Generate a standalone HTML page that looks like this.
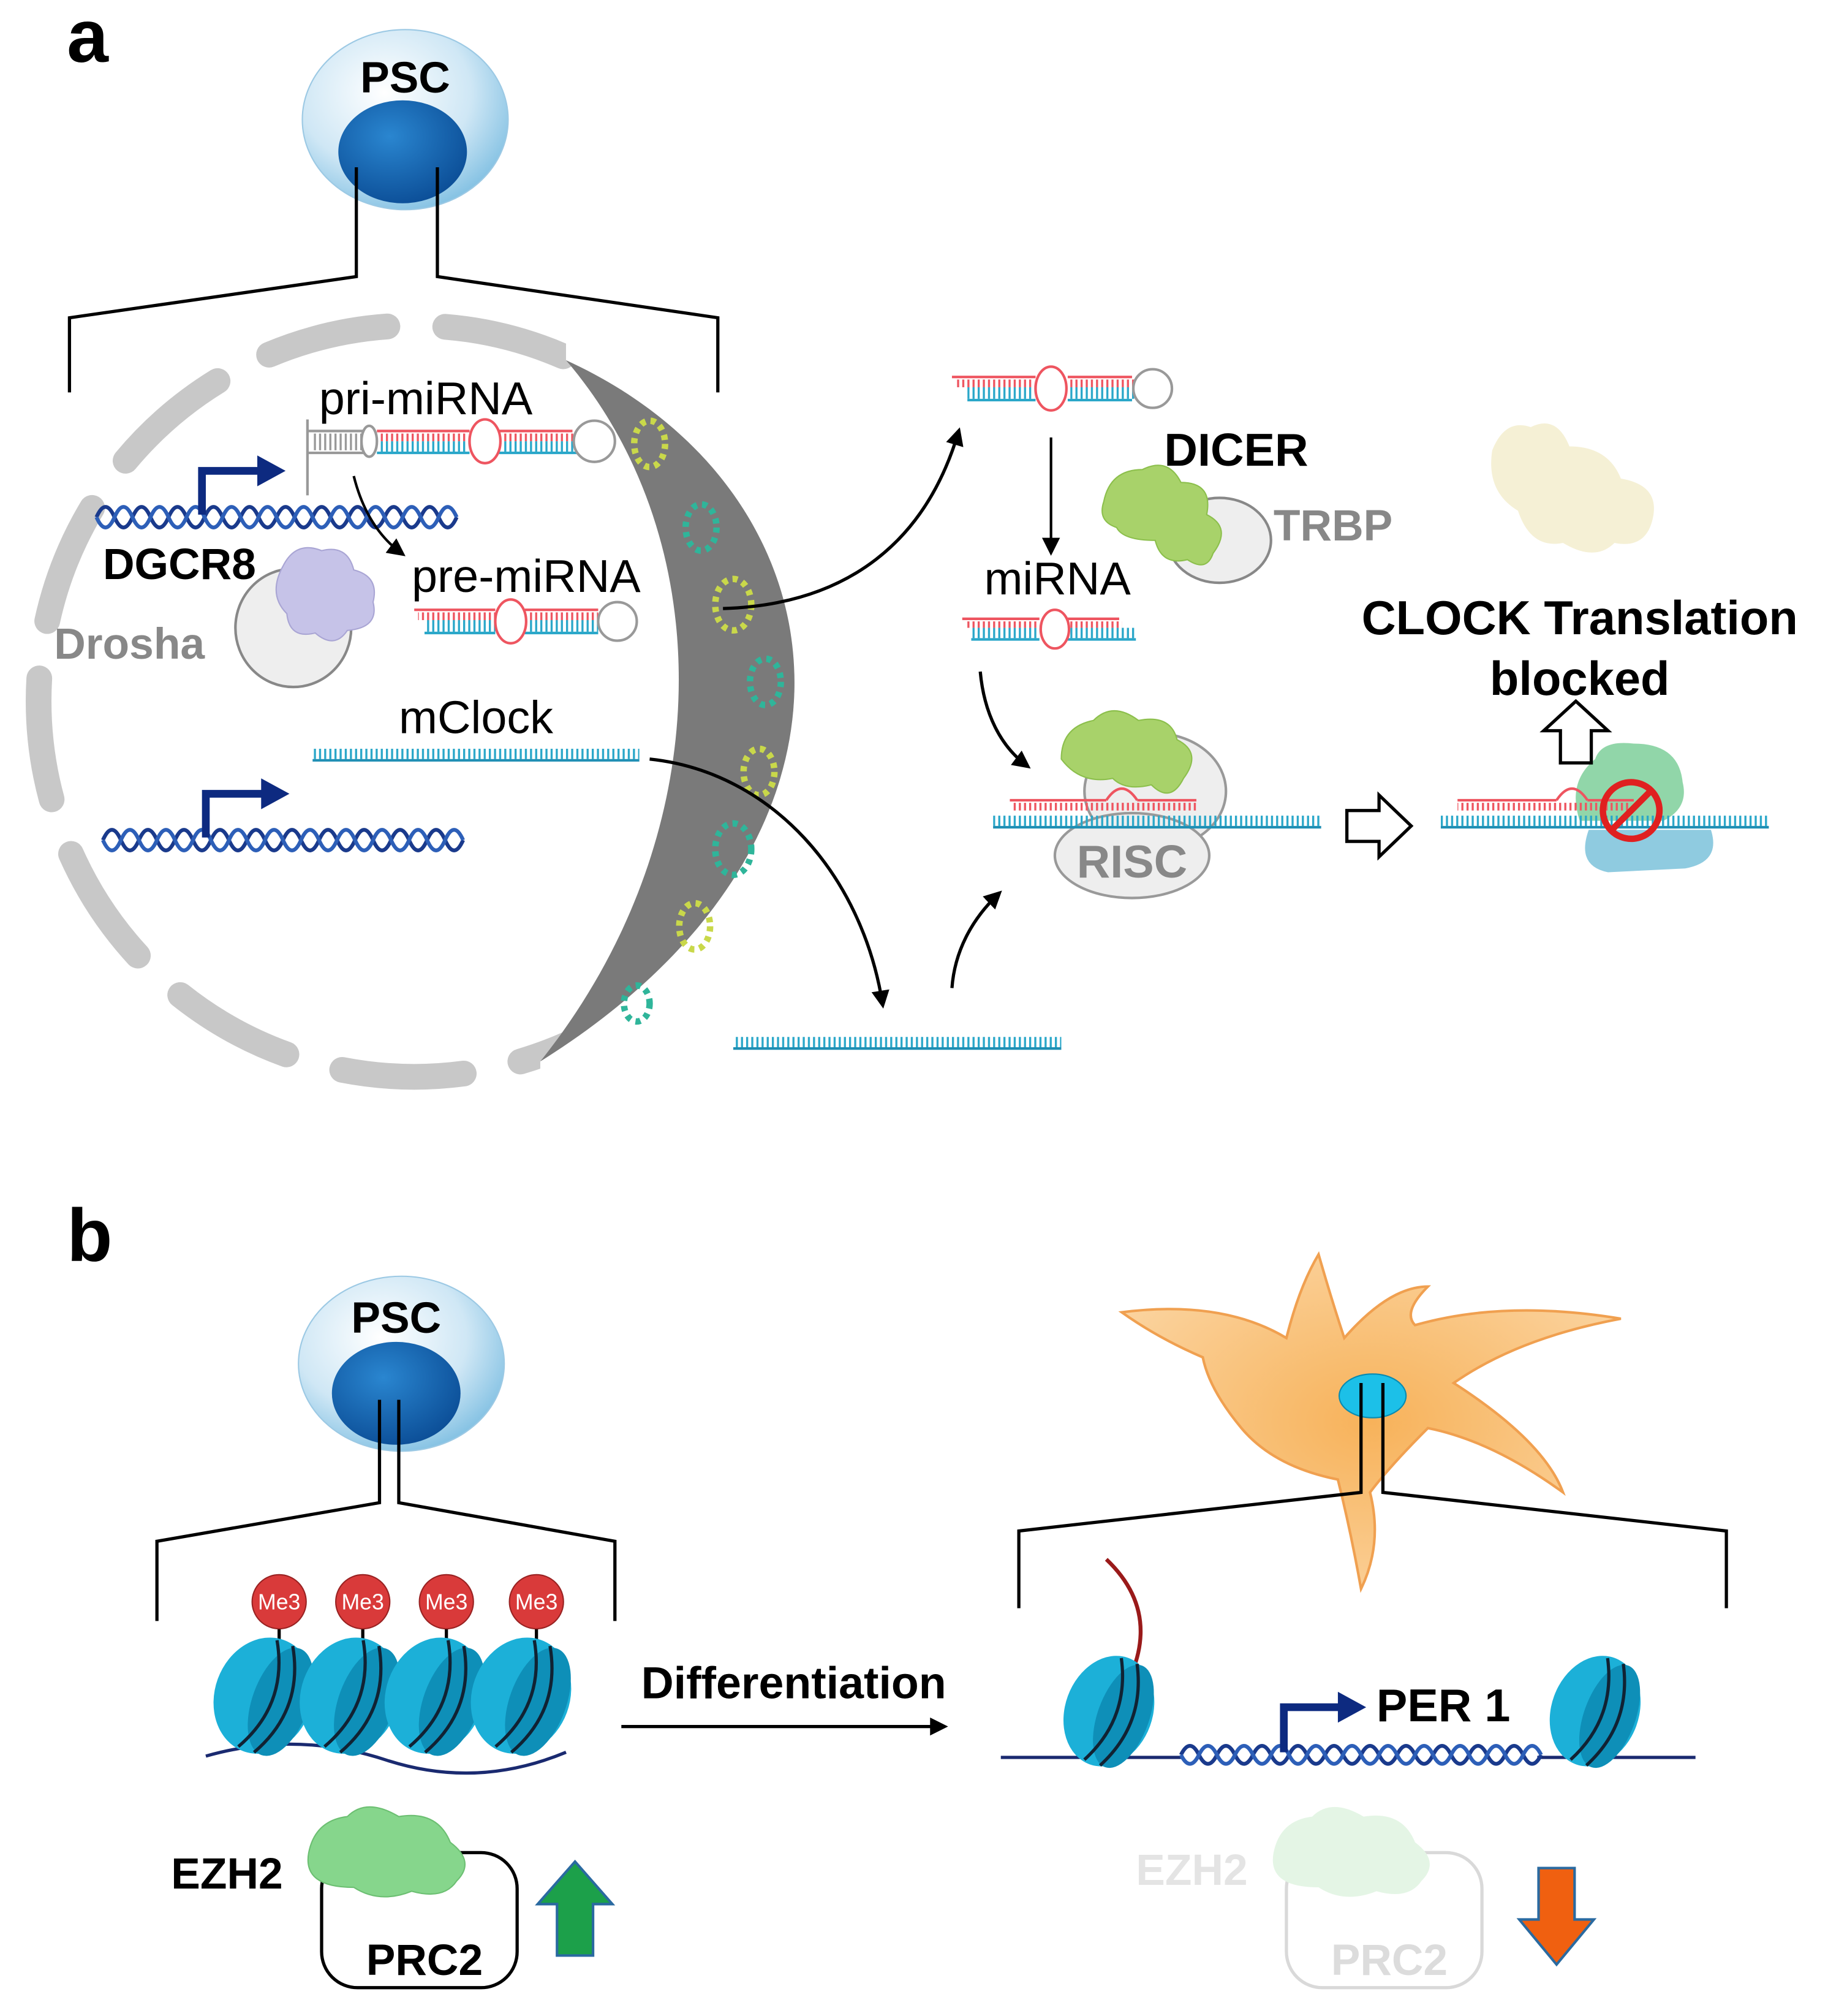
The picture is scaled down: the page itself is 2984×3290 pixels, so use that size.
<!DOCTYPE html>
<html><head><meta charset="utf-8"><style>
html,body{margin:0;padding:0;background:#fff}
svg{display:block}
text{font-family:"Liberation Sans",Arial,sans-serif}
</style></head><body>
<svg width="2984" height="3290" viewBox="0 0 1421 1567" preserveAspectRatio="none" xmlns="http://www.w3.org/2000/svg">
<defs>
<pattern id="tc" width="4" height="10" patternUnits="userSpaceOnUse"><rect x="0" y="0" width="1.6" height="10" fill="#2aa7c9"/></pattern>
<pattern id="tr" width="4" height="10" patternUnits="userSpaceOnUse"><rect x="0" y="0" width="1.6" height="10" fill="#ee5560"/></pattern>
<pattern id="tg" width="4" height="10" patternUnits="userSpaceOnUse"><rect x="0" y="0" width="1.6" height="10" fill="#999"/></pattern>
<radialGradient id="cell" cx="0.4" cy="0.35" r="0.7"><stop offset="0" stop-color="#ffffff"/><stop offset="0.6" stop-color="#cfe7f5"/><stop offset="1" stop-color="#7fbfe2"/></radialGradient>
<radialGradient id="nuc" cx="0.4" cy="0.35" r="0.7"><stop offset="0" stop-color="#2a86d0"/><stop offset="1" stop-color="#0b4d96"/></radialGradient>
<radialGradient id="orange" cx="0.5" cy="0.5" r="0.6"><stop offset="0" stop-color="#f7b25a"/><stop offset="1" stop-color="#fbd4a0"/></radialGradient>
<marker id="ah2" markerWidth="14" markerHeight="14" refX="10" refY="7" orient="auto" markerUnits="userSpaceOnUse"><path d="M0,0 L14,7 L0,14 z" fill="#000"/></marker>
<clipPath id="leftside"><path d="M0,0 L440,0 L440,280 C660,380 700,650 420,825 L420,900 L0,900 z"/></clipPath>
</defs>

<!-- panel a -->
<text x="52" y="48" font-size="58" font-weight="bold">a</text>
<ellipse cx="315" cy="93" rx="80" ry="70" fill="url(#cell)" stroke="#9cc9e4"/>
<ellipse cx="313" cy="118" rx="50" ry="40" fill="url(#nuc)"/>
<text x="315" y="72" font-size="34" font-weight="bold" text-anchor="middle">PSC</text>
<polyline points="277,130 277,215 54,247 54,305" fill="none" stroke="#000" stroke-width="2.5"/>
<polyline points="340,130 340,215 558,247 558,305" fill="none" stroke="#000" stroke-width="2.5"/>

<!-- nucleus envelope -->
<circle cx="322" cy="545" r="292" fill="none" stroke="#c8c8c8" stroke-width="20" stroke-linecap="round" stroke-dasharray="95 45" clip-path="url(#leftside)"/>
<!-- crescent -->
<path d="M440,280 C660,380 700,650 420,825 C560,650 560,420 440,280 z" fill="#7a7a7a"/>
<g fill="none" stroke-width="5" stroke-dasharray="4 4">
<ellipse cx="505" cy="345" rx="12" ry="18" stroke="#c9d84a"/>
<ellipse cx="545" cy="410" rx="12" ry="18" stroke="#2fb59a"/>
<ellipse cx="570" cy="470" rx="14" ry="20" stroke="#c9d84a"/>
<ellipse cx="595" cy="530" rx="12" ry="18" stroke="#2fb59a"/>
<ellipse cx="590" cy="600" rx="12" ry="18" stroke="#c9d84a"/>
<ellipse cx="570" cy="660" rx="14" ry="20" stroke="#2fb59a"/>
<ellipse cx="540" cy="720" rx="12" ry="18" stroke="#c9d84a"/>
<ellipse cx="495" cy="780" rx="10" ry="14" stroke="#2fb59a"/>
</g>

<!-- DNA helix 1 -->
<g fill="none" stroke="#1a3a8c" stroke-width="3">
<path d="M75,402 q7,-16 14,0 t14,0 t14,0 t14,0 t14,0 t14,0 t14,0 t14,0 t14,0 t14,0 t14,0 t14,0 t14,0 t14,0 t14,0 t14,0 t14,0 t14,0 t14,0 t14,0"/>
<path d="M75,402 q7,16 14,0 t14,0 t14,0 t14,0 t14,0 t14,0 t14,0 t14,0 t14,0 t14,0 t14,0 t14,0 t14,0 t14,0 t14,0 t14,0 t14,0 t14,0 t14,0 t14,0" stroke="#2d5fb8"/>
<path d="M80,653 q7,-16 14,0 t14,0 t14,0 t14,0 t14,0 t14,0 t14,0 t14,0 t14,0 t14,0 t14,0 t14,0 t14,0 t14,0 t14,0 t14,0 t14,0 t14,0 t14,0 t14,0"/>
<path d="M80,653 q7,16 14,0 t14,0 t14,0 t14,0 t14,0 t14,0 t14,0 t14,0 t14,0 t14,0 t14,0 t14,0 t14,0 t14,0 t14,0 t14,0 t14,0 t14,0 t14,0 t14,0" stroke="#2d5fb8"/>
</g>
<g fill="none" stroke="#0d2a80" stroke-width="6">
<polyline points="157,400 157,366 202,366"/>
<polyline points="160,651 160,617 205,617"/>
</g>
<path d="M200,354 L222,366 L200,378 z" fill="#0d2a80"/>
<path d="M203,605 L225,617 L203,629 z" fill="#0d2a80"/>

<!-- pri-miRNA -->
<text x="248" y="322" font-size="36">pri-miRNA</text>
<line x1="239" y1="326" x2="239" y2="385" stroke="#999" stroke-width="2"/>
<line x1="239" y1="335" x2="285" y2="335" stroke="#999" stroke-width="2"/>
<line x1="239" y1="352" x2="285" y2="352" stroke="#999" stroke-width="2"/>
<rect x="243" y="337" width="40" height="13" fill="url(#tg)"/>
<ellipse cx="287" cy="343" rx="6" ry="12" fill="#fff" stroke="#999" stroke-width="2"/>
<line x1="293" y1="335" x2="365" y2="335" stroke="#ee5560" stroke-width="2"/>
<line x1="388" y1="335" x2="445" y2="335" stroke="#ee5560" stroke-width="2"/>
<line x1="293" y1="352" x2="365" y2="352" stroke="#2aa7c9" stroke-width="2"/>
<line x1="388" y1="352" x2="460" y2="352" stroke="#2aa7c9" stroke-width="2"/>
<rect x="296" y="337" width="68" height="6" fill="url(#tr)"/><rect x="296" y="343" width="68" height="8" fill="url(#tc)"/>
<rect x="390" y="337" width="60" height="6" fill="url(#tr)"/><rect x="390" y="343" width="60" height="8" fill="url(#tc)"/>
<ellipse cx="377" cy="343" rx="12" ry="17" fill="#fff" stroke="#ee5560" stroke-width="2"/>
<circle cx="462" cy="343" r="16" fill="#fff" stroke="#999" stroke-width="2"/>
<path d="M275,370 Q285,410 312,430" fill="none" stroke="#000" stroke-width="2" marker-end="url(#ah2)"/>

<text x="80" y="450" font-size="34" font-weight="bold">DGCR8</text>
<ellipse cx="228" cy="488" rx="45" ry="46" fill="#eee" stroke="#888" stroke-width="2"/>
<path d="M220,440 q10,-20 30,-12 q20,-5 25,15 q20,5 15,25 q5,20 -20,22 q-10,15 -25,2 q-20,5 -22,-15 q-15,-15 -3,-37z" fill="#c6c3e8" stroke="#a9a5d4"/>
<text x="42" y="512" font-size="34" font-weight="bold" fill="#888">Drosha</text>

<!-- pre-miRNA -->
<text x="320" y="460" font-size="36">pre-miRNA</text>
<line x1="322" y1="474" x2="385" y2="474" stroke="#ee5560" stroke-width="2"/>
<line x1="408" y1="474" x2="465" y2="474" stroke="#ee5560" stroke-width="2"/>
<line x1="330" y1="492" x2="385" y2="492" stroke="#2aa7c9" stroke-width="2"/>
<line x1="408" y1="492" x2="465" y2="492" stroke="#2aa7c9" stroke-width="2"/>
<rect x="325" y="476" width="60" height="6" fill="url(#tr)"/><rect x="330" y="482" width="55" height="9" fill="url(#tc)"/>
<rect x="410" y="476" width="55" height="6" fill="url(#tr)"/><rect x="410" y="482" width="55" height="9" fill="url(#tc)"/>
<ellipse cx="397" cy="483" rx="12" ry="17" fill="#fff" stroke="#ee5560" stroke-width="2"/>
<circle cx="480" cy="483" r="15" fill="#fff" stroke="#999" stroke-width="2"/>

<!-- mClock -->
<text x="370" y="570" font-size="36" text-anchor="middle">mClock</text>
<rect x="243" y="582" width="254" height="8" fill="url(#tc)"/>
<line x1="243" y1="591" x2="497" y2="591" stroke="#1f8fb4" stroke-width="2"/>

<!-- curved arrows -->
<path d="M562,473 C660,470 720,420 745,336" fill="none" stroke="#000" stroke-width="2.5" marker-end="url(#ah2)"/>
<path d="M505,590 C600,600 670,680 686,780" fill="none" stroke="#000" stroke-width="2.5" marker-end="url(#ah2)"/>
<path d="M740,768 C742,740 755,715 776,695" fill="none" stroke="#000" stroke-width="2.5" marker-end="url(#ah2)"/>

<!-- bottom strand -->
<rect x="570" y="806" width="255" height="8" fill="url(#tc)"/>
<line x1="570" y1="815" x2="825" y2="815" stroke="#1f8fb4" stroke-width="2"/>

<!-- right hairpin -->
<line x1="740" y1="293" x2="805" y2="293" stroke="#ee5560" stroke-width="2"/>
<line x1="830" y1="293" x2="880" y2="293" stroke="#ee5560" stroke-width="2"/>
<line x1="752" y1="311" x2="805" y2="311" stroke="#2aa7c9" stroke-width="2"/>
<line x1="830" y1="311" x2="880" y2="311" stroke="#2aa7c9" stroke-width="2"/>
<rect x="742" y="295" width="62" height="6" fill="url(#tr)"/><rect x="752" y="301" width="52" height="9" fill="url(#tc)"/>
<rect x="832" y="295" width="50" height="6" fill="url(#tr)"/><rect x="832" y="301" width="50" height="9" fill="url(#tc)"/>
<ellipse cx="817" cy="302" rx="12" ry="17" fill="#fff" stroke="#ee5560" stroke-width="2"/>
<circle cx="896" cy="302" r="15" fill="#fff" stroke="#999" stroke-width="2"/>
<line x1="817" y1="340" x2="817" y2="428" stroke="#000" stroke-width="2" marker-end="url(#ah2)"/>

<text x="905" y="362" font-size="36" font-weight="bold">DICER</text>
<ellipse cx="948" cy="420" rx="40" ry="33" fill="#eee" stroke="#888" stroke-width="2"/>
<path d="M858,390 q5,-25 30,-25 q20,-10 30,10 q25,0 20,25 q20,10 5,30 q-5,15 -20,5 q-20,5 -25,-15 q-25,0 -30,-10 q-15,-5 -10,-20z" fill="#a8d26a" stroke="#8cbf4c"/>
<text x="990" y="420" font-size="34" font-weight="bold" fill="#888">TRBP</text>

<text x="765" y="462" font-size="36">miRNA</text>
<line x1="748" y1="481" x2="808" y2="481" stroke="#ee5560" stroke-width="2"/>
<line x1="830" y1="481" x2="870" y2="481" stroke="#ee5560" stroke-width="2"/>
<line x1="755" y1="497" x2="808" y2="497" stroke="#2aa7c9" stroke-width="2"/>
<line x1="830" y1="497" x2="883" y2="497" stroke="#2aa7c9" stroke-width="2"/>
<rect x="750" y="483" width="58" height="5" fill="url(#tr)"/><rect x="755" y="488" width="53" height="8" fill="url(#tc)"/>
<rect x="832" y="483" width="40" height="5" fill="url(#tr)"/><rect x="832" y="488" width="50" height="8" fill="url(#tc)"/>
<ellipse cx="820" cy="489" rx="11" ry="15" fill="#fff" stroke="#ee5560" stroke-width="2"/>
<path d="M762,522 C765,555 778,580 798,595" fill="none" stroke="#000" stroke-width="2.5" marker-end="url(#ah2)"/>

<!-- RISC -->
<ellipse cx="898" cy="615" rx="55" ry="45" fill="#eee" stroke="#999" stroke-width="2"/>
<ellipse cx="880" cy="665" rx="60" ry="33" fill="#eee" stroke="#999" stroke-width="2"/>
<path d="M825,590 q0,-25 25,-30 q15,-15 35,0 q25,-5 30,15 q20,10 5,30 q-10,20 -25,5 q-20,5 -30,-5 q-25,5 -40,-15z" fill="#a8d26a" stroke="#8cbf4c"/>
<line x1="785" y1="622" x2="860" y2="622" stroke="#ee5560" stroke-width="2"/>
<path d="M860,622 q12,-18 24,0" fill="none" stroke="#ee5560" stroke-width="2"/>
<line x1="884" y1="622" x2="930" y2="622" stroke="#ee5560" stroke-width="2"/>
<rect x="787" y="624" width="143" height="6" fill="url(#tr)"/>
<rect x="772" y="634" width="255" height="8" fill="url(#tc)"/>
<line x1="772" y1="643" x2="1027" y2="643" stroke="#1f8fb4" stroke-width="2"/>
<text x="880" y="682" font-size="36" font-weight="bold" fill="#888" text-anchor="middle">RISC</text>

<!-- hollow arrow -->
<path d="M1047,630 L1072,630 L1072,618 L1097,642 L1072,666 L1072,654 L1047,654 z" fill="#fff" stroke="#000" stroke-width="2.5"/>

<!-- blocked -->
<path d="M1160,350 q10,-25 30,-18 q20,-10 30,15 q30,0 40,25 q30,5 25,30 q-5,25 -30,20 q-15,15 -40,0 q-25,5 -35,-25 q-25,-15 -20,-47z" fill="#f5f0d5"/>
<path d="M1240,590 q5,-15 30,-12 q35,0 38,30 q5,20 -15,30 l-65,0 q-10,-30 12,-48z" fill="#7ecf9a" opacity="0.85"/>
<path d="M1235,645 l95,0 q8,25 -20,30 l-60,3 q-25,-5 -15,-33z" fill="#8fcbe0"/>
<line x1="1133" y1="622" x2="1210" y2="622" stroke="#ee5560" stroke-width="2"/>
<path d="M1210,622 q12,-18 24,0" fill="none" stroke="#ee5560" stroke-width="2"/>
<line x1="1234" y1="622" x2="1270" y2="622" stroke="#ee5560" stroke-width="2"/>
<rect x="1133" y="624" width="135" height="6" fill="url(#tr)"/>
<rect x="1120" y="634" width="255" height="8" fill="url(#tc)"/>
<line x1="1120" y1="643" x2="1375" y2="643" stroke="#1f8fb4" stroke-width="2"/>
<circle cx="1268" cy="630" r="22" fill="none" stroke="#e02020" stroke-width="5"/>
<line x1="1253" y1="645" x2="1283" y2="615" stroke="#e02020" stroke-width="5"/>
<text x="1228" y="493" font-size="37" font-weight="bold" text-anchor="middle">CLOCK Translation</text>
<text x="1228" y="540" font-size="37" font-weight="bold" text-anchor="middle">blocked</text>
<path d="M1213,593 L1213,568 L1200,568 L1225,545 L1250,568 L1237,568 L1237,593 z" fill="#fff" stroke="#000" stroke-width="2.5"/>

<!-- panel b -->
<text x="52" y="980" font-size="58" font-weight="bold">b</text>
<ellipse cx="312" cy="1060" rx="80" ry="68" fill="url(#cell)" stroke="#9cc9e4"/>
<ellipse cx="308" cy="1083" rx="50" ry="40" fill="url(#nuc)"/>
<text x="308" y="1036" font-size="34" font-weight="bold" text-anchor="middle">PSC</text>
<polyline points="295,1088 295,1168 122,1198 122,1260" fill="none" stroke="#000" stroke-width="2.5"/>
<polyline points="310,1088 310,1168 478,1198 478,1260" fill="none" stroke="#000" stroke-width="2.5"/>

<path d="M160,1365 Q230,1345 300,1368 T440,1362" fill="none" stroke="#1a2a70" stroke-width="2.5"/>
<g stroke="#000" stroke-width="2.5">
<line x1="217" y1="1262" x2="217" y2="1290"/><line x1="282" y1="1262" x2="282" y2="1290"/><line x1="347" y1="1262" x2="347" y2="1290"/><line x1="417" y1="1262" x2="417" y2="1290"/>
</g>
<g>
<g transform="translate(205,1318) rotate(20)"><ellipse rx="38" ry="46" fill="#1cb0d8"/><ellipse cx="14" rx="22" ry="44" fill="#0e8fb8"/><path d="M-5,-44 q25,44 0,88 M8,-44 q25,44 0,88" stroke="#123" stroke-width="2.5" fill="none"/></g>
<g transform="translate(272,1318) rotate(20)"><ellipse rx="38" ry="46" fill="#1cb0d8"/><ellipse cx="14" rx="22" ry="44" fill="#0e8fb8"/><path d="M-5,-44 q25,44 0,88 M8,-44 q25,44 0,88" stroke="#123" stroke-width="2.5" fill="none"/></g>
<g transform="translate(338,1318) rotate(20)"><ellipse rx="38" ry="46" fill="#1cb0d8"/><ellipse cx="14" rx="22" ry="44" fill="#0e8fb8"/><path d="M-5,-44 q25,44 0,88 M8,-44 q25,44 0,88" stroke="#123" stroke-width="2.5" fill="none"/></g>
<g transform="translate(405,1318) rotate(20)"><ellipse rx="38" ry="46" fill="#1cb0d8"/><ellipse cx="14" rx="22" ry="44" fill="#0e8fb8"/><path d="M-5,-44 q25,44 0,88 M8,-44 q25,44 0,88" stroke="#123" stroke-width="2.5" fill="none"/></g>
</g>
<g font-size="17" text-anchor="middle">
<circle cx="217" cy="1245" r="21" fill="#d93a3a" stroke="#922"/><text x="217" y="1251" fill="#fff">Me3</text>
<circle cx="282" cy="1245" r="21" fill="#d93a3a" stroke="#922"/><text x="282" y="1251" fill="#fff">Me3</text>
<circle cx="347" cy="1245" r="21" fill="#d93a3a" stroke="#922"/><text x="347" y="1251" fill="#fff">Me3</text>
<circle cx="417" cy="1245" r="21" fill="#d93a3a" stroke="#922"/><text x="417" y="1251" fill="#fff">Me3</text>
</g>

<text x="133" y="1468" font-size="34" font-weight="bold">EZH2</text>
<rect x="250" y="1440" width="152" height="105" rx="28" fill="#fff" stroke="#000" stroke-width="2.5"/>
<path d="M240,1440 q5,-25 30,-28 q15,-15 40,0 q30,-5 40,20 q20,15 5,30 q-10,15 -35,8 q-25,10 -45,-3 q-40,0 -35,-27z" fill="#86d68c" stroke="#6cbf72"/>
<text x="330" y="1535" font-size="34" font-weight="bold" text-anchor="middle">PRC2</text>
<path d="M433,1520 L433,1480 L418,1480 L447,1447 L476,1480 L461,1480 L461,1520 z" fill="#1ca04a" stroke="#2a6aa0" stroke-width="2"/>

<text x="617" y="1320" font-size="35" font-weight="bold" text-anchor="middle">Differentiation</text>
<line x1="483" y1="1342" x2="733" y2="1342" stroke="#000" stroke-width="2.5" marker-end="url(#ah2)"/>

<!-- fibroblast -->
<path d="M872,1020 Q950,1010 1000,1040 Q1010,1000 1025,975 Q1035,1010 1045,1040 Q1080,1000 1110,1000 Q1090,1020 1100,1030 Q1170,1010 1260,1025 Q1180,1040 1130,1075 Q1200,1120 1215,1160 Q1160,1120 1110,1110 Q1080,1140 1065,1160 Q1075,1200 1058,1235 Q1050,1190 1040,1150 Q990,1140 965,1110 Q940,1080 935,1055 Q900,1040 872,1020z" fill="url(#orange)" stroke="#f0a050" stroke-width="2"/>
<ellipse cx="1067" cy="1085" rx="26" ry="17" fill="#1cc0e8" stroke="#0a8ab0"/>
<polyline points="1058,1075 1058,1160 792,1190 792,1250" fill="none" stroke="#000" stroke-width="2.5"/>
<polyline points="1075,1075 1075,1160 1342,1190 1342,1250" fill="none" stroke="#000" stroke-width="2.5"/>

<path d="M880,1300 Q900,1250 860,1212" fill="none" stroke="#9a1a1a" stroke-width="3"/>
<line x1="778" y1="1366" x2="918" y2="1366" stroke="#1a2a70" stroke-width="2.5"/>
<line x1="1195" y1="1366" x2="1318" y2="1366" stroke="#1a2a70" stroke-width="2.5"/>
<g fill="none" stroke="#1a3a8c" stroke-width="3">
<path d="M918,1364 q7,-14 14,0 t14,0 t14,0 t14,0 t14,0 t14,0 t14,0 t14,0 t14,0 t14,0 t14,0 t14,0 t14,0 t14,0 t14,0 t14,0 t14,0 t14,0 t14,0 t14,0"/>
<path d="M918,1364 q7,14 14,0 t14,0 t14,0 t14,0 t14,0 t14,0 t14,0 t14,0 t14,0 t14,0 t14,0 t14,0 t14,0 t14,0 t14,0 t14,0 t14,0 t14,0 t14,0 t14,0" stroke="#2d5fb8"/>
</g>
<g transform="translate(862,1330) rotate(20)"><ellipse rx="34" ry="44" fill="#1cb0d8"/><ellipse cx="12" rx="20" ry="42" fill="#0e8fb8"/><path d="M-5,-42 q22,42 0,84 M8,-42 q22,42 0,84" stroke="#123" stroke-width="2.5" fill="none"/></g>
<g transform="translate(1240,1330) rotate(20)"><ellipse rx="34" ry="44" fill="#1cb0d8"/><ellipse cx="12" rx="20" ry="42" fill="#0e8fb8"/><path d="M-5,-42 q22,42 0,84 M8,-42 q22,42 0,84" stroke="#123" stroke-width="2.5" fill="none"/></g>
<polyline points="998,1362 998,1327 1042,1327" fill="none" stroke="#0d2a80" stroke-width="6"/>
<path d="M1040,1315 L1062,1327 L1040,1339 z" fill="#0d2a80"/>
<text x="1070" y="1338" font-size="36" font-weight="bold">PER 1</text>

<g opacity="0.22">
<text x="883" y="1465" font-size="34" font-weight="bold" fill="#888">EZH2</text>
<rect x="1000" y="1440" width="152" height="105" rx="28" fill="#fff" stroke="#555" stroke-width="2.5"/>
<path d="M990,1440 q5,-25 30,-28 q15,-15 40,0 q30,-5 40,20 q20,15 5,30 q-10,15 -35,8 q-25,10 -45,-3 q-40,0 -35,-27z" fill="#86d68c"/>
<text x="1080" y="1535" font-size="34" font-weight="bold" text-anchor="middle" fill="#666">PRC2</text>
</g>
<path d="M1196,1452 L1196,1492 L1181,1492 L1210,1527 L1239,1492 L1224,1492 L1224,1452 z" fill="#f06010" stroke="#2a6aa0" stroke-width="2"/>
</svg>
</body></html>
